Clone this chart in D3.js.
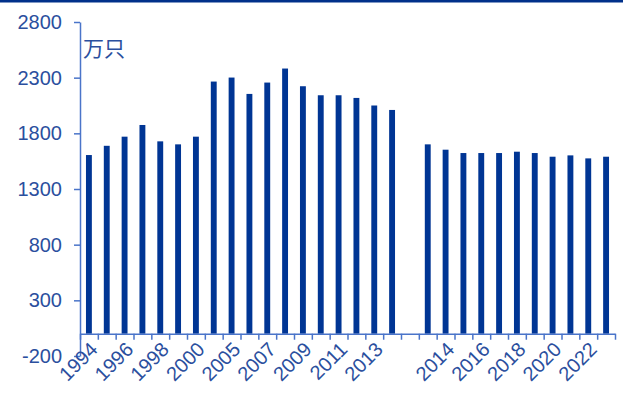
<!DOCTYPE html>
<html><head><meta charset="utf-8">
<script src="https://cdn.jsdelivr.net/npm/d3@7"></script>
<style>
html,body{margin:0;padding:0;background:#fff;}
svg{display:block;font-family:"Liberation Sans",Arial,sans-serif;}
</style></head>
<body><svg id="c" width="623" height="400"></svg>
<script>
// Category labels (only every second one is displayed, as in the reference)
const categories = ["1994","1995","1996","1997","1998","1999","2000","2004","2005","2006","2007","2008","2009","2010","2011","2012","2013","2014 ","","2013 ","2014","2015","2016","2017","2018","2019","2020","2021","2022","2023"];
const values = [1605,1688,1770,1875,1728,1701,1770,2265,2301,2154,2256,2382,2223,2142,2142,2118,2050,2010,null,1701,1653,1623,1623,1623,1635,1623,1590,1602,1575,1590];
const yTicks = [-200,300,800,1300,1800,2300,2800];
const unitLabel = "万只";

(function(){
const svg = d3.select("#c");
const barColor = "#003594", axisColor = "#4a74c9", textColor = "#2b4f9e";

// top border
svg.append("rect").attr("x",0).attr("y",0).attr("width",623).attr("height",2.5).attr("fill","#00308a");

const pl = 80, pr = 615, pt = 22, pb = 356;
const y = d3.scaleLinear().domain([-200,2800]).range([pb, pt]);
const idx = d3.range(categories.length);
const x = d3.scaleBand().domain(idx).range([pl,pr]).paddingInner(0.67).paddingOuter(0.335);
const xb = d3.scaleLinear().domain([0,categories.length]).range([pl,pr]);

// bars
svg.append("g").selectAll("rect").data(idx.filter(i=>values[i]!=null)).join("rect")
  .attr("x", i=>x(i)).attr("width", x.bandwidth())
  .attr("y", i=>y(values[i])).attr("height", i=>y(0)-y(values[i]))
  .attr("fill", barColor);

// y axis
const gy = svg.append("g").attr("transform",`translate(${pl},0)`)
  .call(d3.axisLeft(y).tickValues(yTicks).tickSize(6).tickSizeOuter(0).tickPadding(12).tickFormat(d=>String(d)));
gy.select(".domain").attr("stroke",axisColor).attr("stroke-width",1.5);
gy.selectAll(".tick line").attr("stroke",axisColor).attr("stroke-width",1.5);
gy.selectAll(".tick text").attr("fill",textColor).style("font-size","20px");

// x axis (baseline at 0) with boundary ticks
const gx = svg.append("g").attr("transform",`translate(0,${y(0)})`)
  .call(d3.axisBottom(xb).tickValues(d3.range(categories.length+1)).tickSize(6).tickSizeOuter(0).tickFormat(""));
gx.select(".domain").attr("stroke",axisColor).attr("stroke-width",1.5);
gx.selectAll(".tick line").attr("stroke",axisColor).attr("stroke-width",1.5);

// x labels
svg.append("g").selectAll("text").data(idx.filter(i=>i%2===0)).join("text")
  .attr("transform", i=>`translate(${x(i)+x.bandwidth()/2+5},${y(0)+12}) rotate(-45)`)
  .attr("text-anchor","end").attr("dy","0.35em")
  .attr("fill",textColor).style("font-size","20px")
  .text(i=>categories[i].trim());

// unit label
svg.append("text").attr("x",83).attr("y",56).attr("fill",textColor).style("font-size","21px")
  .style("font-family","'Noto Sans CJK SC',sans-serif").text(unitLabel);
})();
</script></body></html>
